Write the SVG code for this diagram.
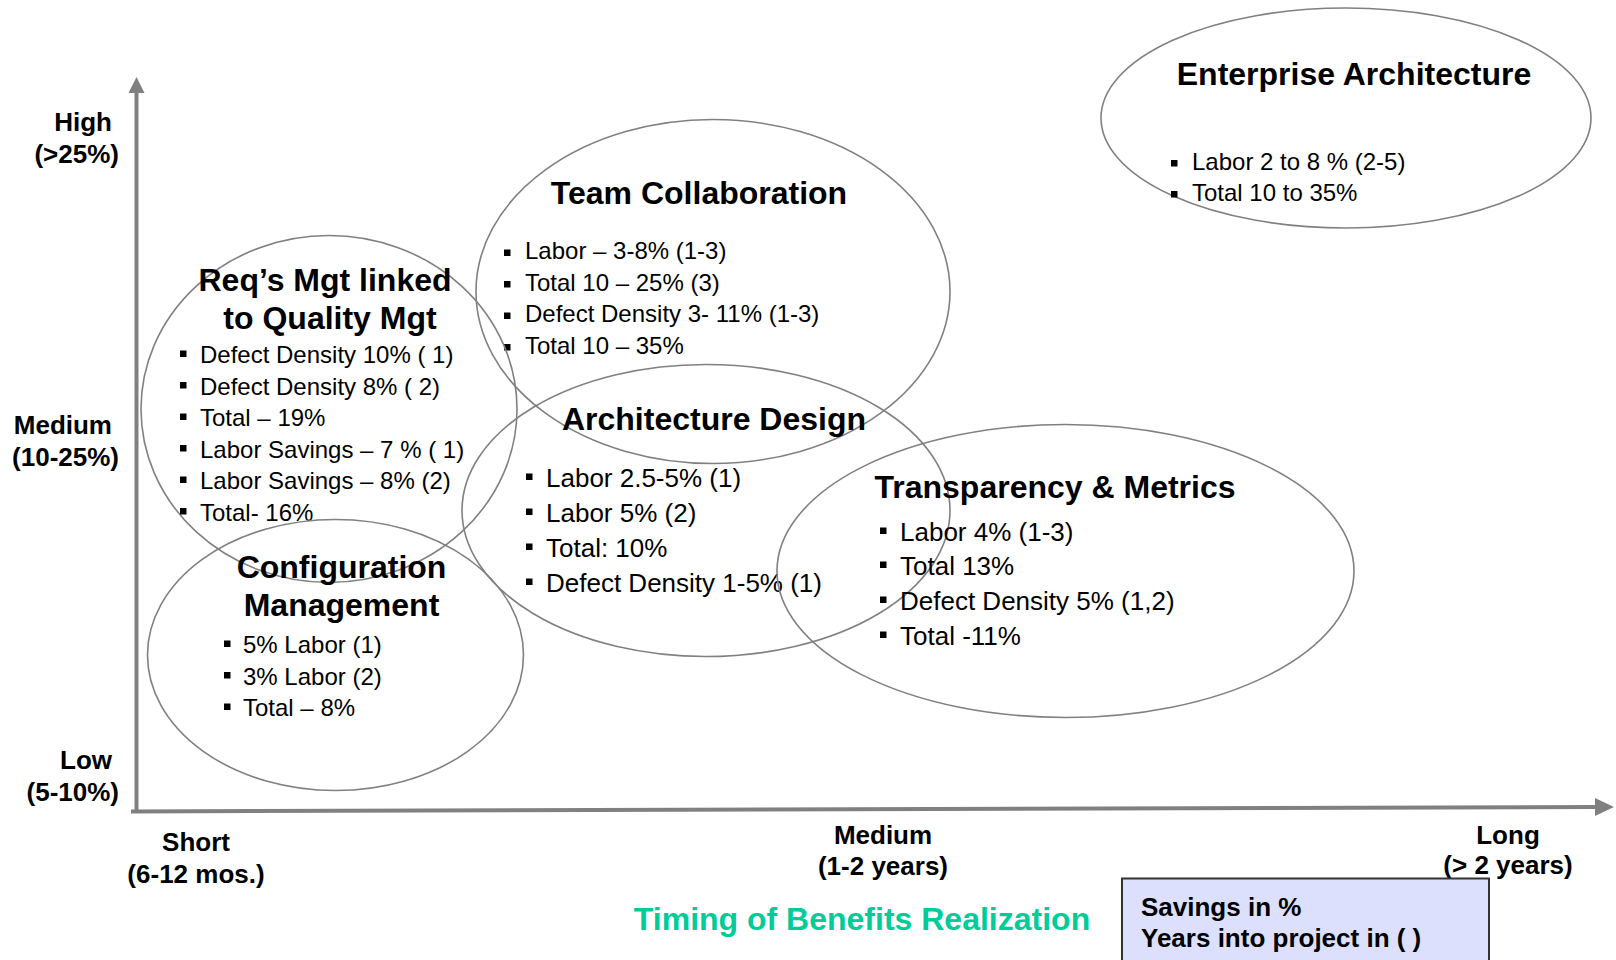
<svg xmlns="http://www.w3.org/2000/svg" width="1616" height="960" viewBox="0 0 1616 960">
  <style>
    text { font-family: "Liberation Sans", Arial, Helvetica, sans-serif; fill: #000; }
    .title { font-size: 32px; font-weight: bold; text-anchor: middle; }
    .item { font-size: 24px; }
    .item26 { font-size: 26px; }
    .axislbl { font-size: 26px; font-weight: bold; }
    .ylbl { text-anchor: end; }
    .xlbl { text-anchor: middle; }
    .bubble { fill: none; stroke: #808080; stroke-width: 1.6; }
    .axis { stroke: #808080; stroke-width: 4; fill: none; }
    .head { fill: #808080; }
    .bul { fill: #000; }
    .timing { font-size: 32px; font-weight: bold; fill: #00CC99; text-anchor: middle; }
    .legend-box { fill: #DDE0FC; stroke: #333; stroke-width: 2; }
    .legend-txt { font-size: 26px; font-weight: bold; }
  </style>
  <defs>
    <rect id="b6" class="bul" width="6.5" height="6.5"/>
  </defs>

  <rect width="1616" height="960" fill="#fff"/>

  <!-- axes -->
  <g id="axes">
    <line class="axis" x1="136.5" y1="92" x2="136.5" y2="813"/>
    <polygon class="head" points="136.5,77 128.5,93 144.5,93"/>
    <line class="axis" x1="131" y1="811.5" x2="1597" y2="807"/>
    <polygon class="head" points="1614,807 1595,798 1595,816"/>
  </g>

  <!-- axis labels -->
  <g id="y-labels" class="axislbl">
    <text class="ylbl" x="112" y="131">High</text>
    <text class="ylbl" x="119" y="163">(&gt;25%)</text>
    <text class="ylbl" x="112" y="434">Medium</text>
    <text class="ylbl" x="119" y="466">(10-25%)</text>
    <text class="ylbl" x="112" y="769">Low</text>
    <text class="ylbl" x="119" y="801">(5-10%)</text>
  </g>
  <g id="x-labels" class="axislbl">
    <text class="xlbl" x="196" y="851">Short</text>
    <text class="xlbl" x="196" y="882.5">(6-12 mos.)</text>
    <text class="xlbl" x="883" y="844">Medium</text>
    <text class="xlbl" x="883" y="875">(1-2 years)</text>
    <text class="xlbl" x="1508" y="844">Long</text>
    <text class="xlbl" x="1508" y="874">(&gt; 2 years)</text>
  </g>
  <text id="x-title" class="timing" x="862" y="930">Timing of Benefits Realization</text>

  <!-- Enterprise Architecture -->
  <g id="enterprise-architecture">
    <ellipse class="bubble" cx="1346" cy="118" rx="245" ry="110"/>
    <text class="title" x="1354" y="84.5">Enterprise Architecture</text>
    <use href="#b6" x="1171" y="160"/>
    <text class="item" x="1192" y="170">Labor 2 to 8 % (2-5)</text>
    <use href="#b6" x="1171" y="191"/>
    <text class="item" x="1192" y="201">Total 10 to 35%</text>
  </g>

  <!-- Team Collaboration -->
  <g id="team-collaboration">
    <ellipse class="bubble" cx="713" cy="291.5" rx="237" ry="172"/>
    <text class="title" x="699" y="204">Team Collaboration</text>
    <use href="#b6" x="504" y="249.5"/>
    <text class="item" x="525" y="259">Labor – 3-8% (1-3)</text>
    <use href="#b6" x="504" y="281"/>
    <text class="item" x="525" y="290.5">Total 10 – 25% (3)</text>
    <use href="#b6" x="504" y="312.5"/>
    <text class="item" x="525" y="322">Defect Density 3- 11% (1-3)</text>
    <use href="#b6" x="504" y="344"/>
    <text class="item" x="525" y="353.5">Total 10 – 35%</text>
  </g>

  <!-- Requirements management linked to quality management -->
  <g id="reqs-quality-mgt">
    <ellipse class="bubble" cx="329" cy="409" rx="188" ry="173.5"/>
    <text class="title" x="325" y="291">Req’s Mgt linked</text>
    <text class="title" x="330" y="329">to Quality Mgt</text>
    <use href="#b6" x="180" y="350.5"/>
    <text class="item" x="200" y="363">Defect Density 10% ( 1)</text>
    <use href="#b6" x="180" y="382"/>
    <text class="item" x="200" y="394.5">Defect Density 8% ( 2)</text>
    <use href="#b6" x="180" y="413.5"/>
    <text class="item" x="200" y="426">Total – 19%</text>
    <use href="#b6" x="180" y="445"/>
    <text class="item" x="200" y="457.5">Labor Savings – 7 % ( 1)</text>
    <use href="#b6" x="180" y="476.5"/>
    <text class="item" x="200" y="489">Labor Savings – 8% (2)</text>
    <use href="#b6" x="180" y="508"/>
    <text class="item" x="200" y="520.5">Total- 16%</text>
  </g>

  <!-- Configuration Management -->
  <g id="configuration-management">
    <ellipse class="bubble" cx="335.5" cy="655" rx="188" ry="135.5"/>
    <text class="title" x="341.5" y="578">Configuration</text>
    <text class="title" x="341.5" y="616">Management</text>
    <use href="#b6" x="224" y="640.5"/>
    <text class="item" x="243" y="653">5% Labor (1)</text>
    <use href="#b6" x="224" y="672"/>
    <text class="item" x="243" y="684.5">3% Labor (2)</text>
    <use href="#b6" x="224" y="703.5"/>
    <text class="item" x="243" y="716">Total – 8%</text>
  </g>

  <!-- Architecture Design -->
  <g id="architecture-design">
    <ellipse class="bubble" cx="706" cy="510.5" rx="244" ry="146"/>
    <text class="title" x="714" y="430">Architecture Design</text>
    <use href="#b6" x="526" y="473.5"/>
    <text class="item26" x="546" y="487">Labor 2.5-5% (1)</text>
    <use href="#b6" x="526" y="508.5"/>
    <text class="item26" x="546" y="522">Labor 5% (2)</text>
    <use href="#b6" x="526" y="543.5"/>
    <text class="item26" x="546" y="557">Total: 10%</text>
    <use href="#b6" x="526" y="578.5"/>
    <text class="item26" x="546" y="592">Defect Density 1-5% (1)</text>
  </g>

  <!-- Transparency & Metrics -->
  <g id="transparency-metrics">
    <ellipse class="bubble" cx="1065.5" cy="571" rx="288.5" ry="146.5"/>
    <text class="title" x="1055" y="498">Transparency &amp; Metrics</text>
    <use href="#b6" x="880" y="527.5"/>
    <text class="item26" x="900" y="541">Labor 4% (1-3)</text>
    <use href="#b6" x="880" y="561.5"/>
    <text class="item26" x="900" y="575">Total 13%</text>
    <use href="#b6" x="880" y="596.5"/>
    <text class="item26" x="900" y="610">Defect Density 5% (1,2)</text>
    <use href="#b6" x="880" y="631.5"/>
    <text class="item26" x="900" y="645">Total -11%</text>
  </g>

  <!-- Legend -->
  <g id="legend">
    <rect class="legend-box" x="1122" y="878.5" width="367" height="95"/>
    <text class="legend-txt" x="1141" y="915.5">Savings in %</text>
    <text class="legend-txt" x="1141" y="947">Years into project in ( )</text>
  </g>
</svg>
